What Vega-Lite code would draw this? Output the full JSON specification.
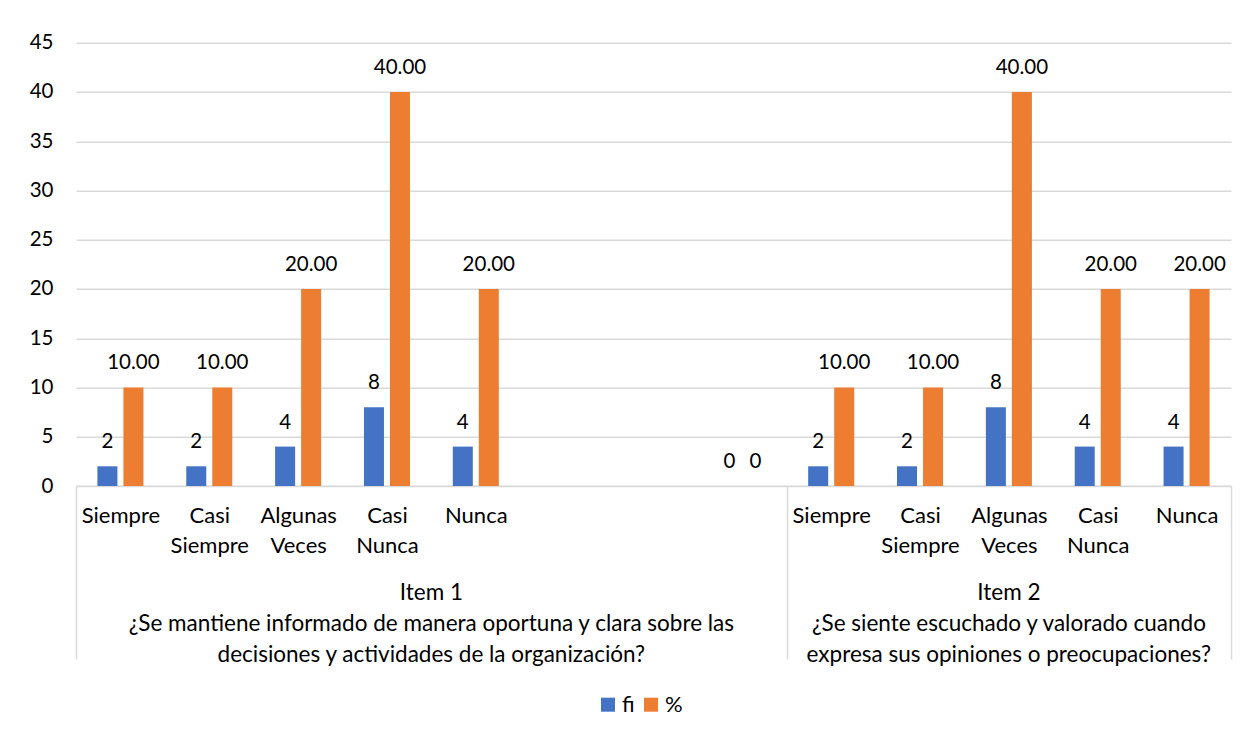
{
  "$schema": "https://vega.github.io/schema/vega-lite/v6.json",
  "autosize": "none",
  "padding": {"left": 76, "top": 42.7, "right": 15, "bottom": 248},
  "width": 1155,
  "height": 443.3,
  "background": "white",
  "data": {
    "values": [
      {"order": 1, "key": "1|Siempre", "series": "fi", "value": 2},
      {"order": 1, "key": "1|Siempre", "series": "%", "value": 10},
      {"order": 2, "key": "1|Casi Siempre", "series": "fi", "value": 2},
      {"order": 2, "key": "1|Casi Siempre", "series": "%", "value": 10},
      {"order": 3, "key": "1|Algunas Veces", "series": "fi", "value": 4},
      {"order": 3, "key": "1|Algunas Veces", "series": "%", "value": 20},
      {"order": 4, "key": "1|Casi Nunca", "series": "fi", "value": 8},
      {"order": 4, "key": "1|Casi Nunca", "series": "%", "value": 40},
      {"order": 5, "key": "1|Nunca", "series": "fi", "value": 4},
      {"order": 5, "key": "1|Nunca", "series": "%", "value": 20},
      {"order": 6, "key": "1|~1", "series": "fi", "value": null},
      {"order": 6, "key": "1|~1", "series": "%", "value": null},
      {"order": 7, "key": "1|~2", "series": "fi", "value": null},
      {"order": 7, "key": "1|~2", "series": "%", "value": null},
      {"order": 8, "key": "1|~3", "series": "fi", "value": 0},
      {"order": 8, "key": "1|~3", "series": "%", "value": 0},
      {"order": 9, "key": "2|Siempre", "series": "fi", "value": 2},
      {"order": 9, "key": "2|Siempre", "series": "%", "value": 10},
      {"order": 10, "key": "2|Casi Siempre", "series": "fi", "value": 2},
      {"order": 10, "key": "2|Casi Siempre", "series": "%", "value": 10},
      {"order": 11, "key": "2|Algunas Veces", "series": "fi", "value": 8},
      {"order": 11, "key": "2|Algunas Veces", "series": "%", "value": 40},
      {"order": 12, "key": "2|Casi Nunca", "series": "fi", "value": 4},
      {"order": 12, "key": "2|Casi Nunca", "series": "%", "value": 20},
      {"order": 13, "key": "2|Nunca", "series": "fi", "value": 4},
      {"order": 13, "key": "2|Nunca", "series": "%", "value": 20}
    ]
  },
  "resolve": {"axis": {"x": "independent"}},
  "layer": [
    {
      "mark": {"type": "tick", "opacity": 0},
      "encoding": {
        "x": {"field": "key", "type": "nominal", "sort": {"field": "order", "op": "min"}, "scale": {"paddingInner": 0, "paddingOuter": 0}, "axis": null}
      }
    },
    {
      "mark": {"type": "bar"},
      "encoding": {
        "x": {
          "field": "key",
          "type": "nominal",
          "sort": {"field": "order", "op": "min"},
          "title": null,
          "scale": {"paddingInner": 0, "paddingOuter": 0},
          "axis": {
            "orient": "bottom",
            "labelAngle": 0,
            "labelExpr": "isString(datum.value) && indexof(datum.value, '~') < 0 ? split(slice(datum.value, 2), ' ') : ''",
            "labelFont": "Lato",
            "labelFontSize": 22,
            "labelColor": "#000000",
            "labelLineHeight": 30.5,
            "labelPadding": -154,
            "labelBaseline": "top",
            "labelBound": false,
            "labelOverlap": false,
            "labelLimit": 1000,
            "tickBand": "extent",
            "tickSize": 173,
            "tickWidth": 1.5,
            "tickColor": {"condition": {"test": "!isString(datum.value) || datum.value == '1|~3' || datum.value == '2|Nunca'", "value": "#d9d9d9"}, "value": "transparent"},
            "domainColor": "#d9d9d9",
            "domainWidth": 1.5,
            "grid": false
          }
        },
        "xOffset": {"field": "series", "type": "nominal", "sort": ["fi", "%"], "scale": {"paddingInner": 0.2308, "paddingOuter": 0.823}},
        "y": {
          "field": "value",
          "type": "quantitative",
          "title": null,
          "scale": {"domain": [0, 45], "nice": false},
          "axis": {
            "values": [0, 5, 10, 15, 20, 25, 30, 35, 40, 45],
            "labelFont": "Lato",
            "labelFontSize": 20.5,
            "labelColor": "#000000",
            "labelPadding": 23,
            "ticks": false,
            "domain": false,
            "gridColor": "#d9d9d9",
            "gridWidth": 1.5
          }
        },
        "color": {
          "field": "series",
          "type": "nominal",
          "scale": {"domain": ["fi", "%"], "range": ["#4472C4", "#ED7D31"]},
          "legend": {
            "orient": "none",
            "legendX": 521,
            "legendY": 651,
            "direction": "horizontal",
            "title": null,
            "symbolType": "square",
            "symbolSize": 196,
            "symbolStrokeWidth": 0,
            "labelFont": "Lato",
            "labelFontSize": 22,
            "labelColor": "#000000",
            "labelOffset": 3,
            "columnPadding": 5
          }
        }
      }
    },
    {
      "mark": {"type": "text", "baseline": "alphabetic", "dy": -18, "font": "Lato", "fontSize": 20.5, "color": "#000000"},
      "encoding": {
        "x": {
          "field": "key",
          "type": "nominal",
          "sort": {"field": "order", "op": "min"},
          "title": null,
          "scale": {"paddingInner": 0, "paddingOuter": 0},
          "axis": {
            "orient": "bottom",
            "labelAngle": 0,
            "labelExpr": "datum.value == '1|Casi Nunca' ? ['Item 1', '¿Se mantiene informado de manera oportuna y clara sobre las', 'decisiones y actividades de la organización?'] : datum.value == '2|Algunas Veces' ? ['Item 2', '¿Se siente escuchado y valorado cuando', 'expresa sus opiniones o preocupaciones?'] : ''",
            "labelOffset": {"condition": {"test": "datum.value == '1|Casi Nunca'", "value": 44.4}, "value": 0},
            "labelFont": "Lato",
            "labelFontSize": 22.5,
            "labelColor": "#000000",
            "labelLineHeight": 31,
            "labelPadding": 95.5,
            "labelBaseline": "top",
            "labelBound": false,
            "labelOverlap": false,
            "labelLimit": 2000,
            "ticks": false,
            "domain": false,
            "grid": false
          }
        },
        "xOffset": {"field": "series", "type": "nominal", "sort": ["fi", "%"]},
        "y": {"field": "value", "type": "quantitative"},
        "text": {
          "condition": {"test": "datum.series == 'fi' || datum.value == 0", "field": "value", "type": "quantitative", "format": "d"},
          "field": "value",
          "type": "quantitative",
          "format": ".2f"
        }
      }
    }
  ],
  "config": {
    "font": "Lato",
    "view": {"stroke": null}
  }
}
